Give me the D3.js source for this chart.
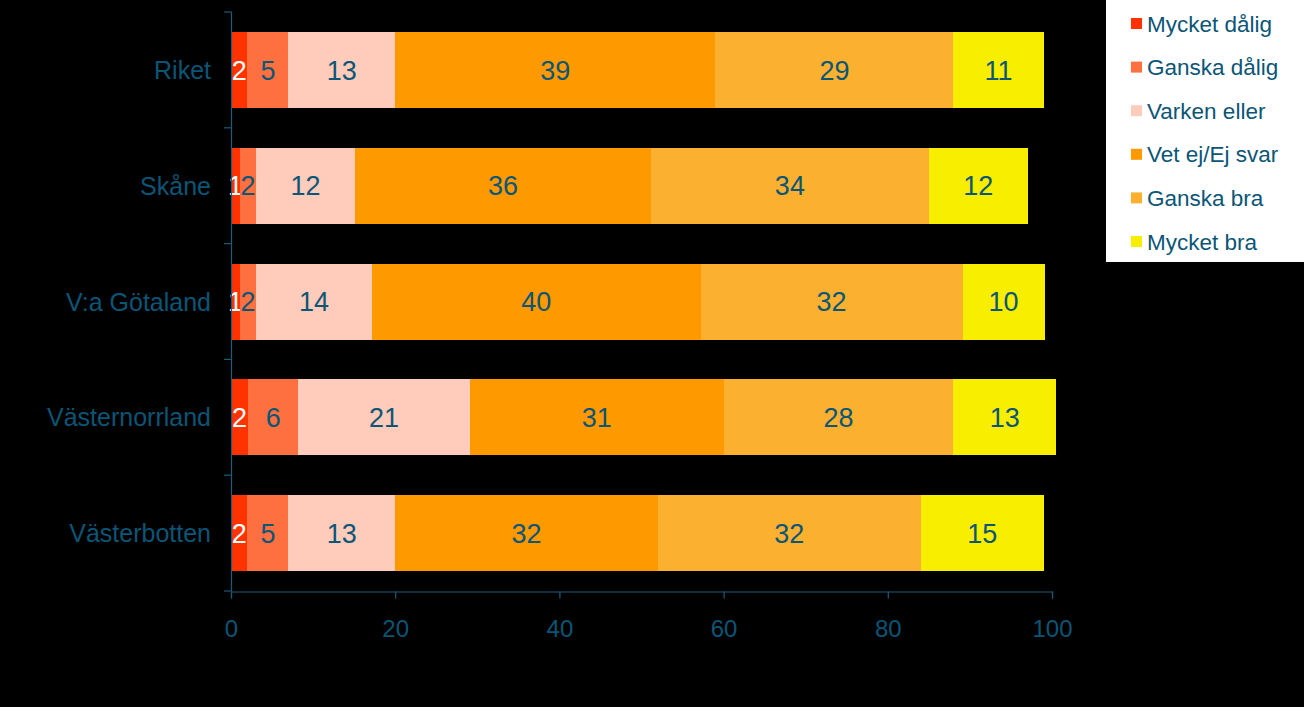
<!DOCTYPE html>
<html>
<head>
<meta charset="utf-8">
<script src="https://cdn.jsdelivr.net/npm/d3@7/dist/d3.min.js"></script>
<style>
  html, body { margin: 0; padding: 0; background: #000; }
  svg { display: block; }
  text { font-family: "Liberation Sans", Arial, sans-serif; }
</style>
</head>
<body>
<svg id="chart" width="1304" height="707"></svg>
<script>
// ---- Data ----
const categories = ["Riket", "Skåne", "V:a Götaland", "Västernorrland", "Västerbotten"];
const seriesNames = ["Mycket dålig", "Ganska dålig", "Varken eller", "Vet ej/Ej svar", "Ganska bra", "Mycket bra"];
const mycketDalig  = [2, 1.1, 1.1, 2.1, 2];
const ganskaDalig  = [5, 1.95, 1.95, 6.1, 5];
const varkenEller  = [13, 12.05, 14.1, 20.9, 13];
const vetEj        = [39, 36.05, 40.05, 30.9, 32];
const ganskaBra    = [29, 33.85, 31.9, 28.0, 32];
const mycketBra    = [11, 12.05, 10, 12.5, 15];
const xTicks = [0, 20, 40, 60, 80, 100];

const seriesValues = [mycketDalig, ganskaDalig, varkenEller, vetEj, ganskaBra, mycketBra];
const colors = ["#FF3300", "#FF7040", "#FFCBBB", "#FF9900", "#FBB12F", "#F7EE00"];
const textColor = "#0B5576";
const axisColor = "#1B5C78";

const svg = d3.select("#chart");
svg.append("rect").attr("width", 1304).attr("height", 707).attr("fill", "#000");

const x = d3.scaleLinear().domain([0, 100]).range([231, 1052]);
const y = d3.scaleBand().domain(categories).range([12, 591])
  .paddingInner(0.344).paddingOuter(0.172);
const step = y.step();

// stacked data
const rows = categories.map((c, i) => {
  const o = { cat: c };
  seriesNames.forEach((s, j) => o[s] = seriesValues[j][i]);
  return o;
});
const stack = d3.stack().keys(seriesNames)(rows);

const g = svg.append("g");
stack.forEach((layer, j) => {
  const lg = g.append("g");
  lg.selectAll("rect").data(layer).join("rect")
    .attr("x", d => Math.round(x(d[0])))
    .attr("width", d => Math.round(x(d[1])) - Math.round(x(d[0])))
    .attr("y", d => Math.round(y(d.data.cat)))
    .attr("height", Math.round(y.bandwidth()))
    .attr("shape-rendering", "crispEdges")
    .attr("fill", colors[j]);
  lg.selectAll("text").data(layer).join("text")
    .attr("x", d => (x(d[0]) + x(d[1])) / 2)
    .attr("y", d => y(d.data.cat) + y.bandwidth() / 2)
    .attr("dy", "0.36em")
    .attr("text-anchor", "middle")
    .attr("font-size", 27)
    .attr("fill", j === 0 ? "#FFFFFF" : textColor)
    .text(d => Math.round(d[1] - d[0]));
});

// Y axis
const yAxisG = svg.append("g");
yAxisG.append("line").attr("x1", 231.5).attr("x2", 231.5).attr("y1", 12).attr("y2", 591)
  .attr("stroke", axisColor).attr("stroke-width", 1.2);
d3.range(categories.length + 1).forEach(i => {
  const yy = 12 + i * step;
  yAxisG.append("line").attr("x1", 224).attr("x2", 231.5).attr("y1", yy).attr("y2", yy)
    .attr("stroke", axisColor).attr("stroke-width", 1.2);
});
yAxisG.selectAll("text.cat").data(categories).join("text")
  .attr("class", "cat")
  .attr("x", 211)
  .attr("y", d => y(d) + y.bandwidth() / 2)
  .attr("dy", "0.36em")
  .attr("text-anchor", "end")
  .attr("font-size", 25)
  .attr("fill", textColor)
  .text(d => d);

// X axis
const xAxis = d3.axisBottom(x).tickValues(xTicks).tickSize(7).tickPadding(21).tickFormat(d3.format("d"));
const xAxisG = svg.append("g").attr("transform", "translate(0,591.5)").call(xAxis);
xAxisG.select(".domain").attr("stroke", axisColor).attr("stroke-width", 1.2);
xAxisG.selectAll(".tick line").attr("stroke", axisColor).attr("stroke-width", 1.2);
xAxisG.selectAll(".tick text").attr("fill", textColor).attr("font-size", 24)
  .attr("font-family", "Liberation Sans, Arial, sans-serif");

// Legend
const legend = svg.append("g");
legend.append("rect").attr("x", 1106).attr("y", 0).attr("width", 198).attr("height", 262).attr("fill", "#FFFFFF");
seriesNames.forEach((s, j) => {
  const cy = 23.5 + j * 43.6;
  legend.append("rect").attr("x", 1131).attr("y", cy - 5.5).attr("width", 11).attr("height", 11).attr("fill", colors[j]);
  legend.append("text").attr("x", 1147).attr("y", cy).attr("dy", "0.36em")
    .attr("font-size", 22.5).attr("fill", textColor)
    .text(s);
});
</script>
</body>
</html>
